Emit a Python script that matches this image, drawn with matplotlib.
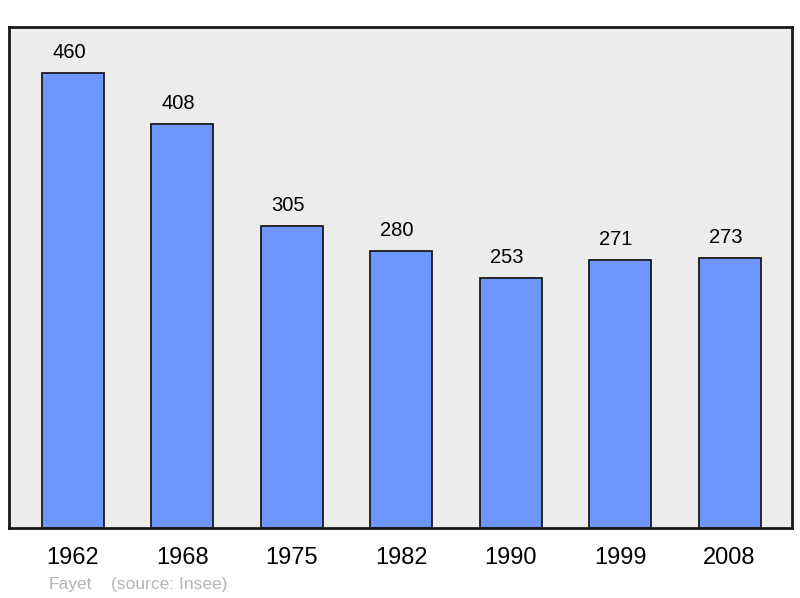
import matplotlib
matplotlib.use("Agg")
import matplotlib.pyplot as plt

years = ["1962", "1968", "1975", "1982", "1990", "1999", "2008"]
population = [460, 408, 305, 280, 253, 271, 273]

plt.rcParams['font.family'] = ['Liberation Sans', 'DejaVu Sans']

fig = plt.figure(figsize=(8, 5.98), dpi=100)
ax = fig.add_axes([9/800, 1-528/598, (792-9)/800, (528-27)/598])
ax.set_facecolor('#ececec')

x = list(range(len(years)))
ax.bar(x, population, width=0.567, color='#6f96ff', edgecolor='#1a1a1a', linewidth=1.3, zorder=2)
for xi, v in zip(x, population):
    ax.annotate(str(v), (xi, v), xytext=(-3, 8), textcoords='offset points',
                ha='center', va='bottom', fontsize=14.5, color='#000000')

ax.set_xlim(-0.585, 6.57)
ax.set_ylim(0, 506.5)
ax.set_xticks(x)
ax.set_xticklabels(years, fontsize=17)
ax.tick_params(axis='x', length=0, pad=14)
ax.set_yticks([])
for s in ax.spines.values():
    s.set_linewidth(2)
    s.set_color('#1a1a1a')

fig.text(49/800, 1-584/598, "Fayet", fontsize=12.5, color='#b4b4b4', va='center', ha='left')
fig.text(111/800, 1-584/598, "(source: Insee)", fontsize=12.5, color='#b4b4b4', va='center', ha='left')

fig.savefig("out.png", dpi=100)
